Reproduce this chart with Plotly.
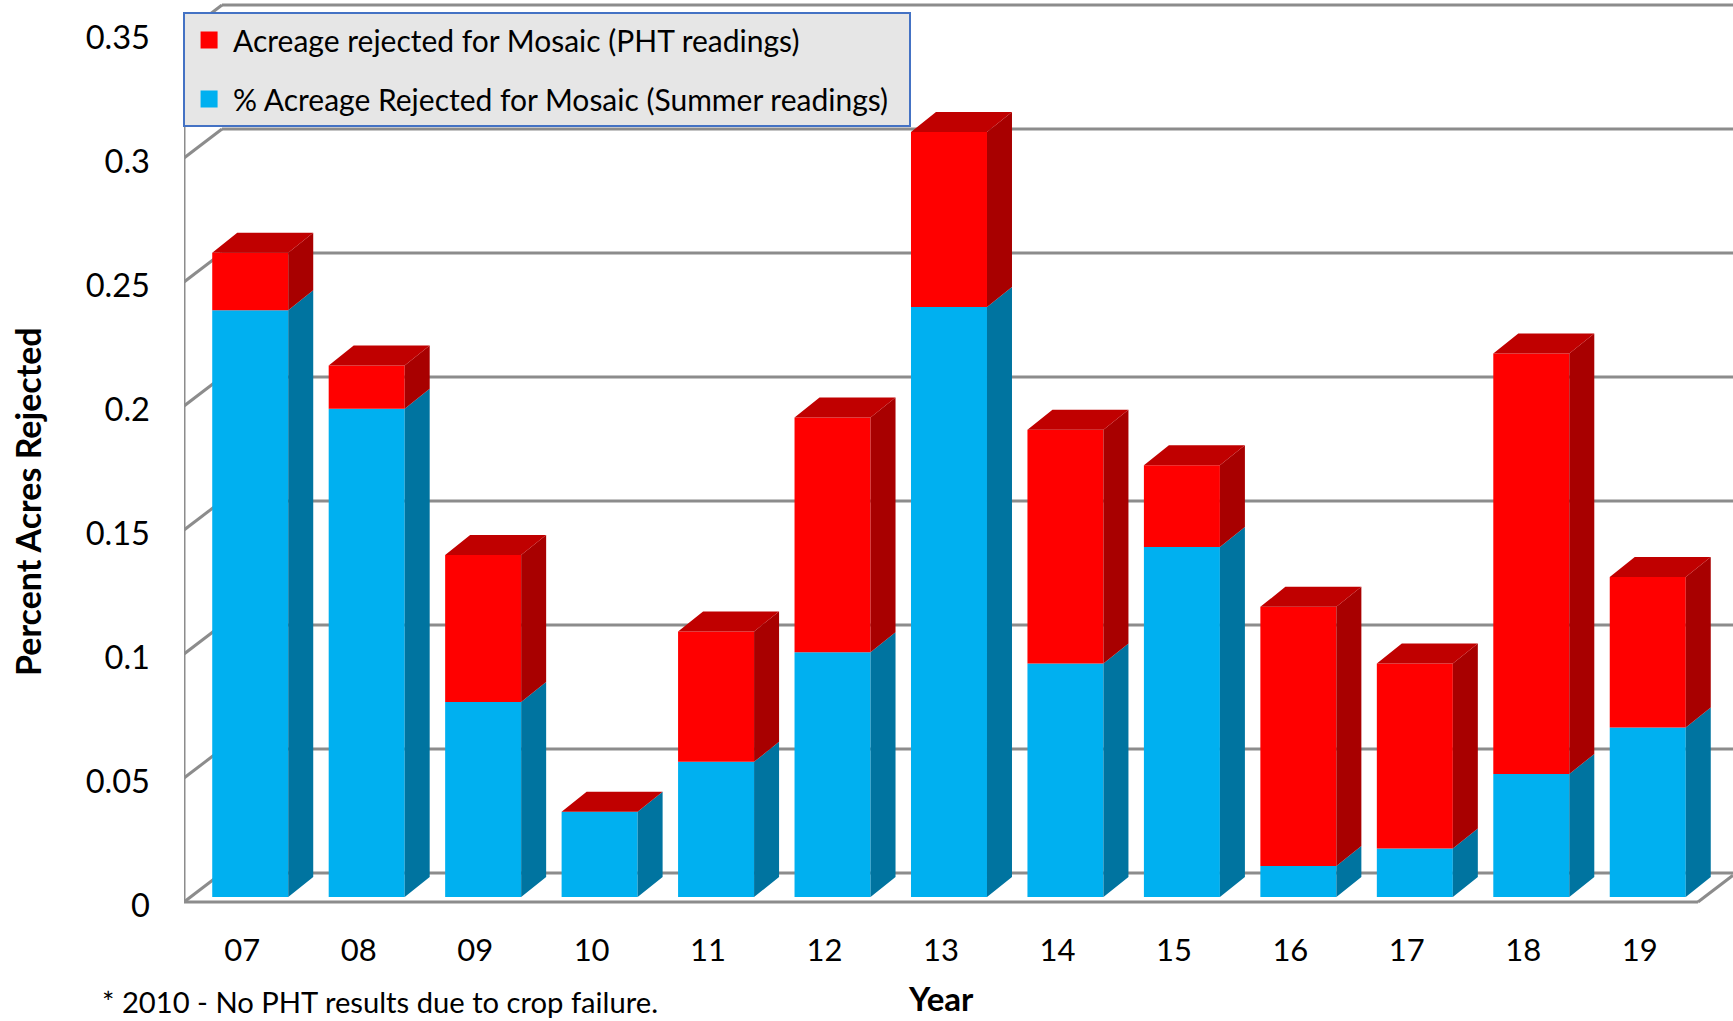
import plotly.graph_objects as go

# ---- data ----
years = ["07", "08", "09", "10", "11", "12", "13", "14", "15", "16", "17", "18", "19"]
summer = [.2366, .1969, .0786, .0344, .0545, .0987, .2379, .0942, .1411, .0125, .0196, .0496, .0683]
pht = [.0232, .0174, .0593, 0, .0526, .0946, .0706, .0942, .0330, .1045, .0746, .1696, .0607]
y_ticks = [0, 0.05, 0.1, 0.15, 0.2, 0.25, 0.3, 0.35]
y_labels = ["0", "0.05", "0.1", "0.15", "0.2", "0.25", "0.3", "0.35"]
name_pht = "Acreage rejected for Mosaic (PHT readings)"
name_summer = "% Acreage Rejected for Mosaic (Summer readings)"

# ---- pseudo-3D styling, in axis units ----
W, H = 1733, 1021
M_L = 184
FLOOR_PX = 902          # page y of the value 0 on the front plane
PLOT_BOTTOM = 921       # page y where the plot area stops
PITCH = 116.46          # px per category
PXV = 2480.0            # px per unit of value
X0 = -0.5
X_END = X0 + (W - M_L) / PITCH
Y_END = FLOOR_PX / PXV
Y_START = -(PLOT_BOTTOM - FLOOR_PX) / PXV
WALL_DX, WALL_DY = 38 / PITCH, 29 / PXV
BAR_DX, BAR_DY = 25 / PITCH, 20 / PXV
BAR_OFF, BAR_W = -30 / PITCH, 76 / PITCH
BAR_LIFT = 5 / PXV
TICK_NUDGE = 3.5 / PXV
FLOOR_END = X0 + len(years)
LEGEND_PAD = "\u00a0" * 2   # widens the legend box to the reference's right edge

BLUE, RED = "#00B0F0", "#FF0000"
BLUE_SIDE, RED_SIDE, RED_TOP = "#0074A0", "#A80000", "#C00000"
GRID = "#8C8C8C"
FONT = "Lato"

fig = go.Figure()
base_low = [BAR_LIFT] * len(years)
base_high = [BAR_LIFT + s for s in summer]
xpos = list(range(len(years)))

fig.add_trace(go.Bar(x=xpos, y=summer, base=base_low, name=name_summer, showlegend=False,
                     offset=BAR_OFF, width=BAR_W, marker=dict(color=BLUE, line_width=0)))
fig.add_trace(go.Bar(x=xpos, y=pht, base=base_high, name=name_pht, showlegend=False,
                     offset=BAR_OFF, width=BAR_W, marker=dict(color=RED, line_width=0)))
# legend keys (larger swatch than a bar trace draws by default)
fig.add_trace(go.Bar(x=[None], y=[None], name=name_pht, legendgroup="a", legendrank=1,
                     marker=dict(color=RED, line=dict(color=RED, width=5))))
fig.add_trace(go.Bar(x=[None], y=[None], name=name_summer + LEGEND_PAD, legendgroup="b", legendrank=2,
                     marker=dict(color=BLUE, line=dict(color=BLUE, width=5))))


def side(lows, highs):
    xs, ys = [], []
    for i, (lo, hi) in enumerate(zip(lows, highs)):
        if hi <= lo:
            continue
        r = i + BAR_OFF + BAR_W
        xs += [r, r + BAR_DX, r + BAR_DX, r, r, None]
        ys += [lo, lo + BAR_DY, hi + BAR_DY, hi, lo, None]
    return xs, ys


def top(levels):
    xs, ys = [], []
    for i, v in enumerate(levels):
        l = i + BAR_OFF
        r = l + BAR_W
        xs += [l, r, r + BAR_DX, l + BAR_DX, l, None]
        ys += [v, v, v + BAR_DY, v + BAR_DY, v, None]
    return xs, ys


totals = [b + p for b, p in zip(base_high, pht)]
for (xs, ys), col in [(side(base_low, base_high), BLUE_SIDE),
                      (side(base_high, totals), RED_SIDE),
                      (top(totals), RED_TOP)]:
    fig.add_trace(go.Scatter(x=xs, y=ys, mode="lines", fill="toself", fillcolor=col,
                             line=dict(width=0, color=col), showlegend=False, hoverinfo="skip"))

# back wall, side wall and floor frame, all under the bars
shapes = []


def seg(x0, y0, x1, y1):
    shapes.append(dict(type="line", xref="x", yref="y", x0=x0, y0=y0, x1=x1, y1=y1,
                       layer="below", line=dict(color=GRID, width=3)))


for v in y_ticks:
    seg(X0, v, X0 + WALL_DX, v + WALL_DY)
    seg(X0 + WALL_DX, v + WALL_DY, X_END, v + WALL_DY)
seg(X0, 0, X0, y_ticks[-1])
seg(X0, 0, FLOOR_END, 0)
seg(FLOOR_END, 0, X_END, (X_END - FLOOR_END) * WALL_DY / WALL_DX)


def px_x(p):
    return (p - M_L) / (W - M_L)


def px_y(p):
    return 1 - p / PLOT_BOTTOM


annotations = [
    dict(text="Percent Acres Rejected", xref="paper", yref="paper", x=px_x(27), y=px_y(502),
         xanchor="center", yanchor="middle", textangle=-90, showarrow=False,
         font=dict(family=FONT, size=34, color="black", weight="bold")),
    dict(text="Year", xref="paper", yref="paper", x=px_x(941), y=px_y(998),
         xanchor="center", yanchor="middle", showarrow=False,
         font=dict(family=FONT, size=33, color="black", weight="bold")),
    dict(text="* 2010 - No PHT results due to crop failure.", xref="paper", yref="paper",
         x=px_x(100), xanchor="left", y=px_y(1001), yanchor="middle",
         showarrow=False, font=dict(family=FONT, size=29.2, color="black")),
]

fig.update_layout(
    width=W, height=H, autosize=False,
    margin=dict(l=M_L, r=0, t=0, b=H - PLOT_BOTTOM, pad=0),
    paper_bgcolor="white", plot_bgcolor="white",
    barmode="overlay", shapes=shapes, annotations=annotations,
    font=dict(family=FONT, color="black"),
    xaxis=dict(range=[X0, X_END], tickvals=xpos, ticktext=years,
               showgrid=False, zeroline=False, showline=False, ticks="",
               ticklabelstandoff=8, tickfont=dict(family=FONT, size=31, color="black")),
    yaxis=dict(range=[Y_START, Y_END], tickvals=[v - TICK_NUDGE for v in y_ticks], ticktext=y_labels,
               showgrid=False, zeroline=False, showline=False, ticks="",
               ticklabelstandoff=33, tickfont=dict(family=FONT, size=32.6, color="black")),
    legend=dict(x=-0.0006, xanchor="left", y=px_y(12), yanchor="top",
                bgcolor="#E6E6E6", bordercolor="#4472C4", borderwidth=2,
                font=dict(family=FONT, size=30, color="black"),
                tracegroupgap=17, itemwidth=38, traceorder="grouped"),
)

fig.write_html("out.html", config={"displayModeBar": False},
               post_script="document.body.style.margin='0';document.body.style.overflow='hidden';")
